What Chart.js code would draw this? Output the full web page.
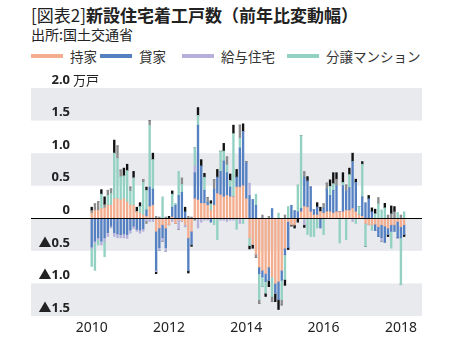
<!DOCTYPE html>
<html lang="ja">
<head>
    <meta charset="UTF-8">
    <title>新設住宅着工戸数（前年比変動幅）</title>
    <script src="https://cdn.jsdelivr.net/npm/chart.js"></script>
    <style>
        body {
            margin: 0;
            width: 454px;
            height: 343px;
            background: #fff;
            font-family: "Noto Sans CJK JP", "Noto Sans", sans-serif;
            color: #222;
            position: relative;
            overflow: hidden;
        }
        #title {
            position: absolute;
            left: 31px;
            top: 2px;
            font-size: 17px;
            font-weight: bold;
            white-space: nowrap;
        }
        #title .tag { font-weight: normal; }
        #source {
            position: absolute;
            left: 31px;
            top: 24px;
            font-size: 14px;
            white-space: nowrap;
        }
        #legend {
            position: absolute;
            left: 31px;
            top: 46px;
            height: 18px;
            font-size: 13.5px;
            color: #333;
            white-space: nowrap;
        }
        #legend .item {
            position: absolute;
            top: 0;
            display: flex;
            align-items: center;
        }
        #legend .sw {
            display: inline-block;
            width: 32px;
            height: 4px;
            margin-right: 7px;
        }
        #chart {
            position: absolute;
            left: 0;
            top: 0;
        }
    </style>
</head>
<body>
    <div id="title"><span class="tag">[図表2]</span>新設住宅着工戸数（前年比変動幅）</div>
    <div id="source">出所:国土交通省</div>
    <div id="legend"></div>
    <canvas id="chart" width="454" height="343"></canvas>

    <script>
        // 月次データ 2010年1月〜2018年2月 (単位:万戸, 前年同月比の増減)
        const months = [];
        for (let y = 2010; y <= 2018; y++) {
            for (let m = 1; m <= 12; m++) {
                if (y === 2018 && m > 2) break;
                months.push(y + '-' + String(m).padStart(2, '0'));
            }
        }

        const mochiie = [
            0.08, 0.12, 0.12, 0.15, 0.16, 0.20, 0.20, 0.30, 0.30, 0.28, 0.30, 0.25,
            0.20, 0.20, 0.10, 0.08, 0.05, 0.03, 0.18, 0.20, -0.20, -0.15, -0.10, -0.15,
            -0.10, 0.02, -0.08, -0.02, -0.04, -0.10, -0.30, -0.20, 0.30, 0.28, 0.23, 0.23,
            0.20, 0.12, 0.20, 0.38, 0.36, 0.33, 0.35, 0.33, 0.33, 0.48, 0.48, 0.50,
            0.30, -0.30, -0.40, -0.55, -0.75, -0.80, -0.85, -0.75, -0.90, -1.00, -0.97, -0.80,
            -0.46, -0.05, -0.10, -0.10, 0.00, 0.10, 0.18, 0.17, 0.10, 0.05, 0.05, 0.10,
            0.08, 0.10, 0.10, 0.08, 0.10, 0.10, 0.10, 0.12, 0.12, 0.15, 0.10, 0.05,
            0.03, -0.08, -0.10, -0.10, -0.09, -0.13, -0.10, -0.12, -0.15, -0.10, -0.10, -0.05,
            -0.13, -0.10
        ];
        const kashiya = [
            -0.44, -0.35, -0.30, -0.35, -0.30, -0.22, -0.12, -0.22, -0.24, -0.25, -0.24, -0.25,
            -0.18, -0.12, -0.17, -0.18, -0.16, 0.10, 0.30, 0.25, -0.60, -0.30, -0.20, -0.30,
            0.00, 0.15, 0.20, 0.35, 0.40, 0.10, -0.50, -0.20, 0.40, 1.15, 0.57, 0.20,
            0.05, -0.06, 0.25, 0.25, 0.36, 0.55, 0.35, 0.15, 0.00, 0.15, 0.60, 0.83,
            0.55, 0.35, 0.29, 0.20, -0.10, -0.10, -0.12, -0.20, 0.15, -0.15, -0.28, -0.15,
            -0.10, -0.40, 0.20, 0.12, 0.10, 0.05, 0.45, 0.40, 0.38, 0.08, 0.12, -0.15,
            0.08, 0.35, 0.25, 0.35, 0.40, 0.00, 0.40, 0.30, 0.35, 0.72, 0.45, 0.00,
            0.30, 0.24, 0.30, 0.10, -0.10, -0.15, -0.20, -0.25, -0.10, -0.10, -0.10, -0.25,
            -0.17, -0.15
        ];
        const kyuyo = [
            -0.02, -0.03, -0.03, -0.06, -0.05, -0.06, -0.03, -0.06, -0.06, -0.05, -0.06, -0.06,
            -0.05, -0.04, -0.03, -0.05, -0.04, -0.04, -0.05, -0.05, -0.02, -0.04, -0.05, -0.06,
            0.00, -0.05, 0.00, -0.15, 0.00, -0.03, 0.00, 0.00, 0.10, -0.15, -0.06, -0.03,
            -0.03, 0.00, 0.00, 0.00, -0.03, -0.03, -0.05, -0.03, -0.03, 0.00, -0.08, 0.00,
            0.00, 0.19, 0.00, 0.00, 0.00, 0.00, 0.00, 0.00, 0.00, 0.00, 0.00, 0.00,
            0.00, 0.00, 0.00, 0.00, 0.00, 0.00, -0.10, 0.00, 0.00, 0.00, 0.00, 0.00,
            0.00, 0.00, 0.00, 0.00, 0.00, 0.00, 0.00, 0.00, 0.00, -0.05, 0.00, 0.00,
            0.00, 0.00, 0.00, 0.00, 0.00, 0.00, -0.05, 0.00, 0.00, 0.00, 0.00, 0.00,
            0.00, 0.00
        ];
        const mansion = [
            -0.28, -0.42, -0.08, 0.22, -0.24, 0.15, 0.18, 0.70, 0.62, 0.36, 0.35, 0.48,
            0.22, 0.42, 0.00, 0.10, 0.50, 0.30, 0.95, 0.45, 0.00, 0.00, 0.33, 0.00,
            0.00, 0.20, 0.03, 0.37, 0.12, 0.00, 0.00, 0.00, 0.28, 0.15, 0.00, 0.20,
            0.00, 0.10, -0.10, -0.33, 0.31, 0.15, 0.12, 0.10, 0.97, -0.17, 0.15, -0.08,
            0.00, -0.12, 0.00, 0.17, -0.40, -0.15, -0.18, 0.00, -0.30, 0.00, 0.08, -0.30,
            -0.38, 0.18, 0.00, 0.00, 0.41, 1.12, 0.00, -0.25, -0.28, -0.28, -0.15, 0.00,
            -0.25, 0.00, 0.14, 0.10, 0.00, -0.38, 0.05, -0.33, 0.20, 0.00, -0.08, 0.13,
            0.50, -0.35, 0.00, -0.08, 0.07, 0.22, 0.13, 0.16, 0.00, -0.26, 0.00, 0.09,
            -0.72, 0.10
        ];
        // 凡例外の系列 (棒の先端の灰色・黒)
        const other1 = [
            0.04, 0.10, 0.14, 0.00, 0.05, 0.08, 0.07, 0.00, 0.19, 0.10, 0.00, 0.00,
            0.06, 0.00, 0.00, 0.00, 0.04, -0.04, 0.07, 0.00, 0.03, 0.02, 0.00, 0.02,
            0.00, 0.00, 0.00, 0.00, 0.10, 0.00, 0.03, 0.02, -0.03, 0.00, 0.00, 0.00,
            0.07, 0.00, 0.14, 0.00, 0.00, 0.00, 0.12, 0.00, 0.00, 0.00, 0.20, 0.00,
            0.02, 0.00, 0.00, -0.05, -0.06, 0.05, 0.00, 0.03, -0.08, 0.00, 0.00, -0.08,
            0.05, 0.00, 0.00, 0.00, 0.00, 0.00, 0.09, 0.00, 0.00, 0.00, 0.00, 0.00,
            0.06, 0.09, 0.00, 0.00, 0.10, 0.00, 0.00, 0.09, 0.00, 0.00, 0.00, 0.00,
            0.00, 0.00, 0.00, 0.00, 0.00, 0.10, 0.00, 0.00, 0.05, 0.07, 0.10, 0.00,
            0.05, 0.00
        ];
        const other2 = [
            0.05, 0.00, 0.00, 0.07, 0.12, 0.00, 0.00, 0.20, 0.00, 0.00, 0.12, 0.10,
            0.00, 0.10, 0.07, 0.06, 0.00, 0.05, 0.00, 0.10, -0.03, 0.00, 0.00, 0.00,
            0.03, 0.05, 0.00, 0.00, 0.00, 0.07, -0.04, -0.03, 0.00, 0.12, 0.10, 0.06,
            0.00, 0.05, 0.00, 0.12, 0.00, 0.12, 0.00, 0.10, 0.13, 0.12, 0.00, 0.12,
            0.00, -0.05, -0.06, 0.00, 0.00, 0.00, -0.05, -0.10, 0.00, -0.13, -0.15, 0.00,
            -0.09, -0.03, -0.02, -0.05, -0.06, 0.00, -0.04, 0.07, 0.00, 0.00, 0.07, 0.07,
            0.00, 0.00, 0.10, 0.17, 0.10, 0.00, 0.15, 0.00, 0.10, 0.13, 0.05, 0.00,
            0.04, 0.00, 0.05, 0.06, 0.07, 0.00, 0.00, 0.07, -0.03, 0.12, 0.08, 0.00,
            0.00, -0.03
        ];

        const seriesNames = ['持家', '貸家', '給与住宅', '分譲マンション'];
        const seriesColors = ['#f3ad8f', '#5581c2', '#b5b1da', '#93d1c3'];
        const otherColors = ['#8c8c8c', '#111111'];

        const yTickValues = [2.0, 1.5, 1.0, 0.5, 0, -0.5, -1.0, -1.5];
        const yTickLabels = ['2.0', '1.5', '1.0', '0.5', '0', '▲0.5', '▲1.0', '▲1.5'];
        const yUnit = '万戸';
        const xTickIndex = [0, 24, 48, 72, 96];
        const xTickLabels = ['2010', '2012', '2014', '2016', '2018'];

        // legend (HTML)
        const legendPos = [0, 69, 151, 256];
        const legend = document.getElementById('legend');
        seriesNames.forEach(function(name, i) {
            const item = document.createElement('div');
            item.className = 'item';
            item.style.left = legendPos[i] + 'px';
            item.innerHTML = '<span class="sw" style="background:' + seriesColors[i] + '"></span>' + name;
            legend.appendChild(item);
        });

        function toPoints(arr) {
            return arr.map(function(v, i) { return { x: i, y: v }; });
        }

        const allSeries = [mochiie, kashiya, kyuyo, mansion, other1, other2];
        const allColors = seriesColors.concat(otherColors);
        const allNames = seriesNames.concat(['その他1', 'その他2']);

        const datasets = allSeries.map(function(arr, i) {
            return {
                label: allNames[i],
                data: toPoints(arr),
                backgroundColor: allColors[i],
                borderWidth: 0,
                barThickness: 1.7
            };
        });

        // 背景の帯・ゼロ線・縦軸ラベル
        const decor = {
            id: 'decor',
            beforeDatasetsDraw(chart) {
                const ctx = chart.ctx;
                const a = chart.chartArea;
                const y = chart.scales.y;
                ctx.save();
                ctx.fillStyle = '#e8eaee';
                for (let v = -1.5; v < 2.0; v += 1.0) {
                    const top = y.getPixelForValue(v + 0.5);
                    const bot = y.getPixelForValue(v);
                    ctx.fillRect(a.left, top, a.right - a.left, bot - top);
                }
                ctx.restore();
            },
            afterDatasetsDraw(chart) {
                const ctx = chart.ctx;
                const a = chart.chartArea;
                const y = chart.scales.y;
                ctx.save();
                const y0 = Math.round(y.getPixelForValue(0)) + 0.5;
                ctx.strokeStyle = '#000';
                ctx.lineWidth = 1;
                ctx.beginPath();
                ctx.moveTo(a.left, y0);
                ctx.lineTo(a.right, y0);
                ctx.stroke();

                ctx.fillStyle = '#222';
                ctx.textBaseline = 'middle';
                yTickValues.forEach(function(v, i) {
                    const py = y.getPixelForValue(v) - 8;
                    ctx.font = 'bold 13px "Noto Sans", "Noto Sans CJK JP", sans-serif';
                    ctx.textAlign = 'right';
                    ctx.fillText(yTickLabels[i], 70, py);
                    if (i === 0) {
                        ctx.textAlign = 'left';
                        ctx.font = '13px "Noto Sans CJK JP", sans-serif';
                        ctx.fillText(yUnit, 73, py);
                    }
                });
                ctx.restore();
            }
        };

        new Chart(document.getElementById('chart'), {
            type: 'bar',
            data: { datasets: datasets },
            options: {
                responsive: false,
                animation: false,
                layout: { padding: { left: 31, right: 32, top: 88, bottom: 0 } },
                plugins: {
                    legend: { display: false },
                    tooltip: { enabled: false }
                },
                scales: {
                    x: {
                        type: 'linear',
                        stacked: true,
                        offset: false,
                        min: -18.85,
                        max: 102.55,
                        grid: { display: false, drawTicks: false, offset: false },
                        border: { display: false },
                        afterBuildTicks: function(scale) {
                            scale.ticks = xTickIndex.map(function(v) { return { value: v }; });
                        },
                        afterFit: function(scale) { scale.height = 27; },
                        ticks: {
                            padding: 4,
                            maxRotation: 0,
                            autoSkip: false,
                            color: '#222',
                            font: { family: '"Noto Sans", sans-serif', size: 14 },
                            callback: function(value) {
                                const k = xTickIndex.indexOf(value);
                                return k >= 0 ? xTickLabels[k] : '';
                            }
                        }
                    },
                    y: {
                        display: false,
                        stacked: true,
                        min: -1.5,
                        max: 2.0
                    }
                }
            },
            plugins: [decor]
        });
    </script>
</body>
</html>
